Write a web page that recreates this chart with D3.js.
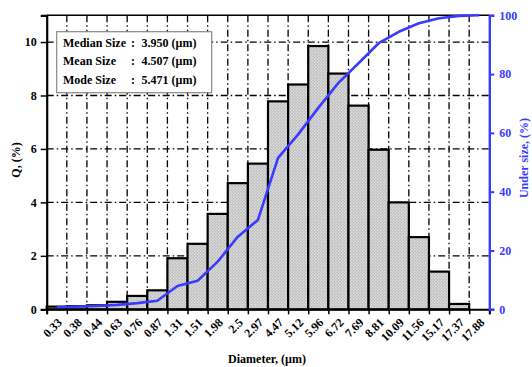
<!DOCTYPE html>
<html>
<head>
<meta charset="utf-8">
<script src="https://d3js.org/d3.v7.min.js"></script>
<style>
  body { margin: 0; background: #fff; }
  svg text { font-family: "Liberation Serif", "Times New Roman", serif; font-weight: bold; }
</style>
</head>
<body>
<svg width="532" height="367"></svg>
<script>
var sizes = ["0.33","0.38","0.44","0.63","0.76","0.87","1.31","1.51","1.98","2.5","2.97",
             "4.47","5.12","5.96","6.72","7.69","8.81","10.09","11.56","15.17","17.37","17.88"];
var freq = [0.1, 0.12, 0.15, 0.28, 0.5, 0.71, 1.91, 2.45, 3.57, 4.72, 5.45,
            7.78, 8.41, 9.85, 8.82, 7.62, 5.97, 4.0, 2.7, 1.41, 0.2, 0];
var under = [0.7, 0.9, 1.1, 1.5, 2.1, 2.9, 7.9, 9.7, 16.2, 24.7, 30.4,
             51.5, 59.5, 68.5, 77, 83.7, 90.5, 94.4, 97.3, 99.0, 99.8, 100];
var leftTicks = [0, 2, 4, 6, 8, 10];
var rightTicks = [0, 20, 40, 60, 80, 100];
var statLabels = ["Median Size", "Mean Size", "Mode Size"];
var statValues = ["3.950 (\u00b5m)", "4.507 (\u00b5m)", "5.471 (\u00b5m)"];

var svg = d3.select("svg"),
    margin = {top: 15.3, right: 43, bottom: 58, left: 46.7},
    width = 489.3 - margin.left,
    height = 309.3 - margin.top;
var blue = "#3b3bff";

var defs = svg.append("defs");
var pat = defs.append("pattern")
    .attr("id", "dots")
    .attr("patternUnits", "userSpaceOnUse")
    .attr("width", 3).attr("height", 3);
pat.append("rect").attr("width", 3).attr("height", 3).attr("fill", "#f2f2f2");
pat.append("circle").attr("cx", 0.75).attr("cy", 0.75).attr("r", 0.75).attr("fill", "#8a8a8a");
pat.append("circle").attr("cx", 2.25).attr("cy", 2.25).attr("r", 0.75).attr("fill", "#8a8a8a");

var g = svg.append("g").attr("transform", "translate(" + margin.left + "," + margin.top + ")");

var x = d3.scaleBand().domain(sizes).range([0, width]).padding(0);
var xEdge = d3.scaleLinear().domain([0, sizes.length]).range([0, width]);
var yL = d3.scaleLinear().domain([0, 11]).range([height, 0]);
var yR = d3.scaleLinear().domain([0, 100]).range([height, 0]);

// grid
var dash = "7,3,1.5,3";
g.append("g").selectAll("line")
  .data(d3.range(1, sizes.length))
  .enter().append("line")
    .attr("x1", function(d) { return xEdge(d); })
    .attr("x2", function(d) { return xEdge(d); })
    .attr("y1", 0).attr("y2", height)
    .attr("stroke", "#000").attr("stroke-width", 1.3)
    .attr("stroke-dasharray", dash);
g.append("g").selectAll("line")
  .data(leftTicks.slice(1))
  .enter().append("line")
    .attr("x1", 0).attr("x2", width)
    .attr("y1", function(d) { return yL(d); })
    .attr("y2", function(d) { return yL(d); })
    .attr("stroke", "#000").attr("stroke-width", 1.3)
    .attr("stroke-dasharray", dash);

// bars
g.append("g").selectAll("rect")
  .data(freq)
  .enter().append("rect")
    .attr("x", function(d, i) { return x(sizes[i]); })
    .attr("y", function(d) { return yL(d); })
    .attr("width", x.bandwidth())
    .attr("height", function(d) { return height - yL(d); })
    .attr("fill", "url(#dots)")
    .attr("stroke", "#000")
    .attr("stroke-width", function(d) { return d > 0 ? 2.2 : 0; });

// top border
g.append("line").attr("x1", 0).attr("x2", width).attr("y1", 0).attr("y2", 0)
  .attr("stroke", "#000").attr("stroke-width", 1.5);

// cumulative curve
var line = d3.line()
    .x(function(d, i) { return x(sizes[i]) + x.bandwidth() / 2; })
    .y(function(d) { return yR(d); });
g.append("path")
  .datum(under)
  .attr("d", line)
  .attr("fill", "none")
  .attr("stroke", blue)
  .attr("stroke-width", 2.6)
  .attr("stroke-linejoin", "round");

// bottom axis
var xAxis = g.append("g").attr("transform", "translate(0," + height + ")")
  .call(d3.axisBottom(xEdge).tickValues(d3.range(0, sizes.length + 1)).tickSize(5).tickFormat(""));
xAxis.select(".domain").attr("stroke-width", 2);
xAxis.selectAll(".tick line").attr("stroke-width", 1.5);

var xLab = g.append("g").attr("transform", "translate(0," + height + ")")
  .call(d3.axisBottom(x).tickSize(0).tickPadding(0));
xLab.select(".domain").remove();
xLab.selectAll("text")
  .attr("font-size", 12)
  .attr("fill", "#000")
  .attr("text-anchor", "end")
  .attr("dy", "0.35em")
  .attr("transform", "translate(3,11) rotate(-45)");

// left axis
var yAxis = g.append("g")
  .call(d3.axisLeft(yL).tickValues(leftTicks).tickSize(6).tickPadding(4));
yAxis.select(".domain").attr("stroke-width", 2.2);
yAxis.selectAll(".tick line").attr("stroke-width", 1.5);
yAxis.selectAll("text").attr("font-size", 12).attr("fill", "#000");

// right axis
var rAxis = g.append("g").attr("transform", "translate(" + width + ",0)")
  .call(d3.axisRight(yR).tickValues(rightTicks).tickSize(5).tickPadding(5));
rAxis.select(".domain").attr("stroke", blue).attr("stroke-width", 2.4);
rAxis.selectAll(".tick line").attr("stroke", blue).attr("stroke-width", 2);
rAxis.selectAll("text").attr("font-size", 12).attr("fill", blue);

// axis titles
svg.append("text")
  .attr("x", 267).attr("y", 363)
  .attr("text-anchor", "middle")
  .attr("font-size", 12)
  .text("Diameter, (\u00b5m)");
svg.append("text")
  .attr("transform", "translate(20,160) rotate(-90)")
  .attr("text-anchor", "middle")
  .attr("font-size", 12)
  .text("Q, (%)");
svg.append("text")
  .attr("transform", "translate(528,158) rotate(-90)")
  .attr("text-anchor", "middle")
  .attr("font-size", 12)
  .attr("fill", blue)
  .text("Under size, (%)");

// stats box
var box = svg.append("g");
box.append("rect")
  .attr("x", 56.7).attr("y", 31.7).attr("width", 155).attr("height", 61)
  .attr("fill", "#fff").attr("stroke", "#888").attr("stroke-width", 1.2);
statLabels.forEach(function(s, i) {
  var yy = 47 + i * 18.3;
  box.append("text").attr("x", 63).attr("y", yy).attr("font-size", 12).text(s);
  box.append("text").attr("x", 131).attr("y", yy).attr("font-size", 12).text(":");
  box.append("text").attr("x", 141.5).attr("y", yy).attr("font-size", 12).text(statValues[i]);
});
</script>
</body>
</html>
